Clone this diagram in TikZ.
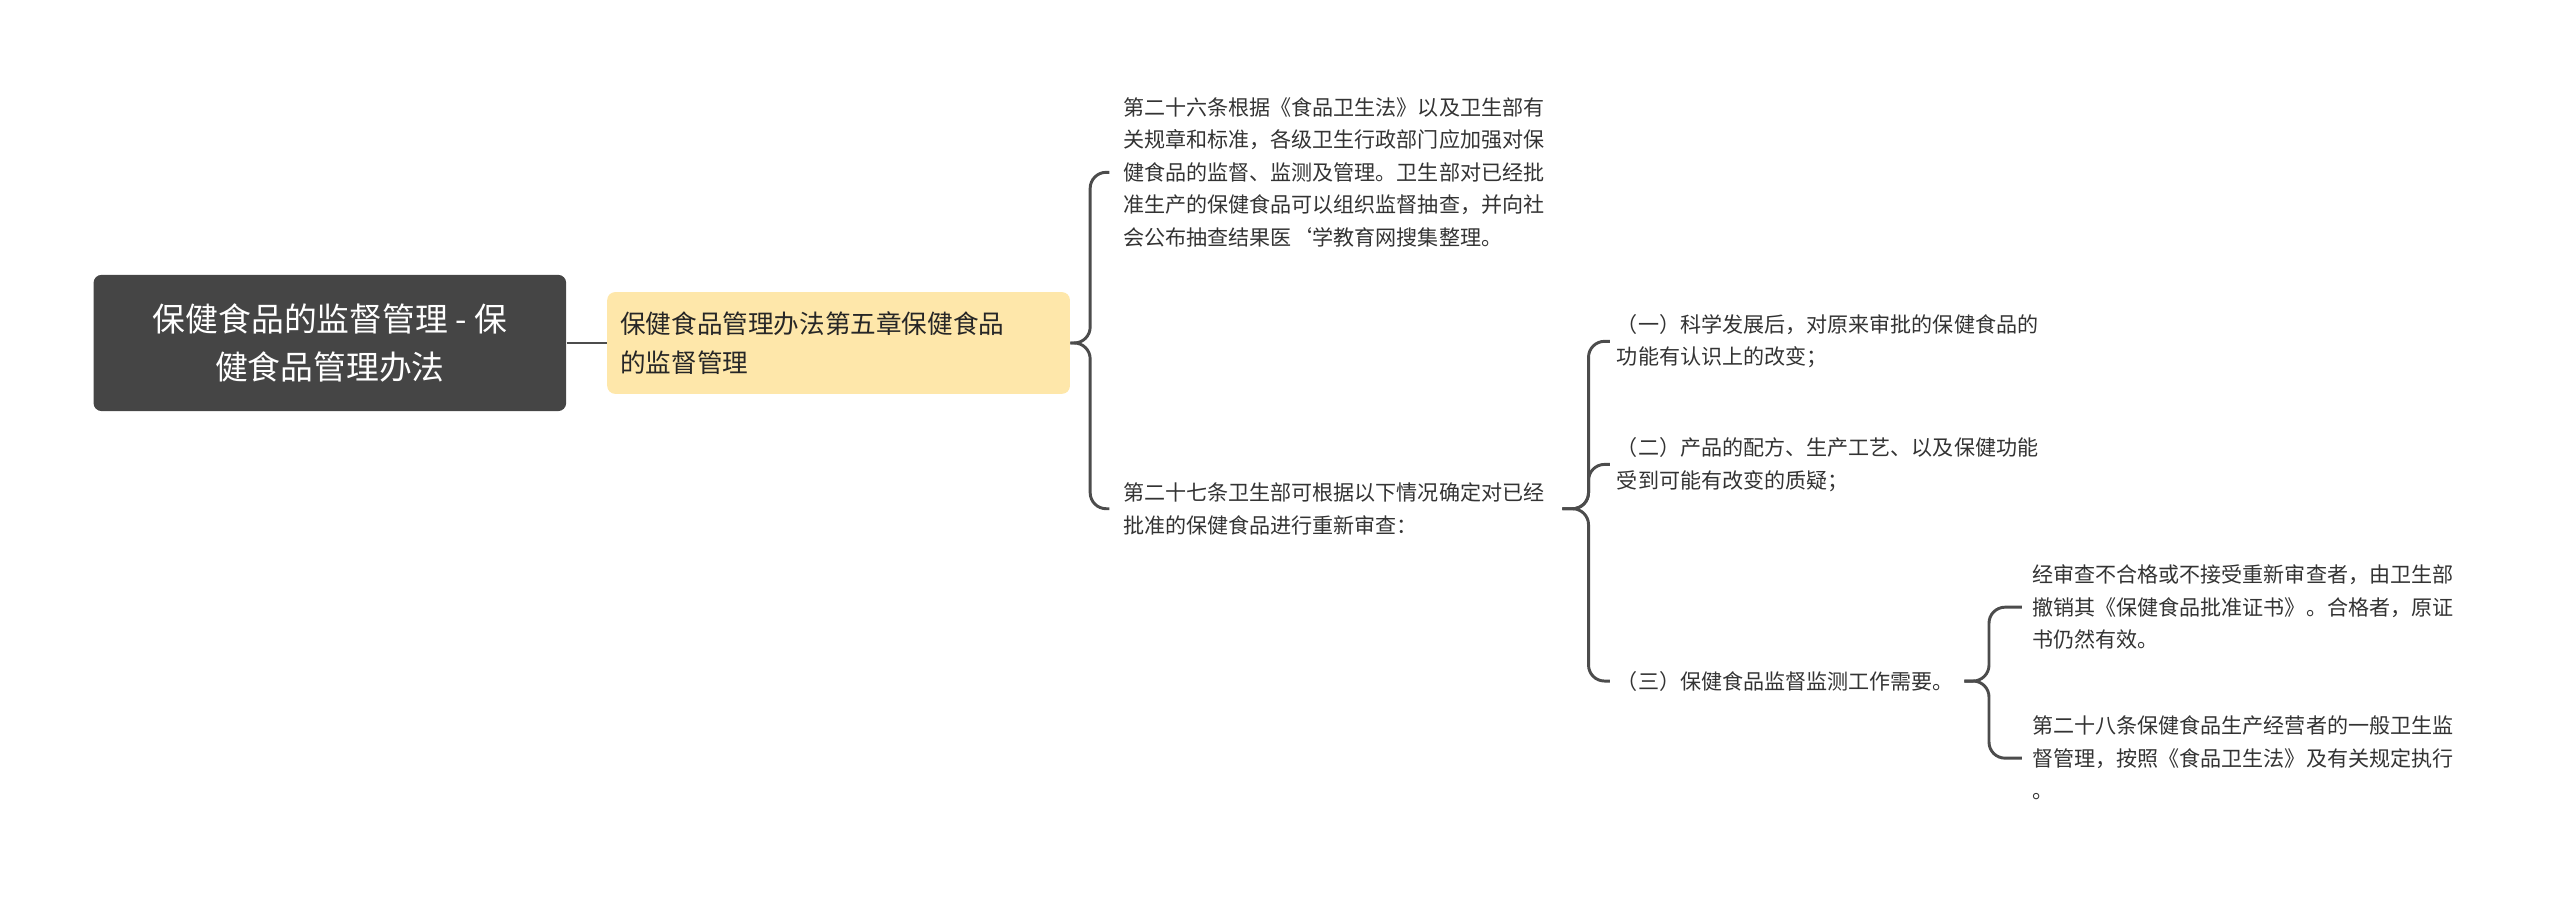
\documentclass[tikz,border=0pt]{standalone}
\usepackage{fontspec}
\setmainfont{Noto Sans CJK SC}
\begin{document}
\begin{tikzpicture}[x=0.6154pt,y=-0.6154pt,
  conn/.style={draw=black!70,line width=1.1pt,rounded corners=6pt},
  leaf/.style={anchor=west,align=left,font=\fontsize{7.9}{12.2}\selectfont,text=black!80,inner sep=0pt}]
\useasboundingbox (0,0) rectangle (1560,548);
\node[fill=black!73,rounded corners=3pt,minimum width=288*0.6154pt,minimum height=83*0.6154pt,
  text=white,align=center,font=\fontsize{12.3}{18}\selectfont] (root) at (201,209)
  {保健食品的监督管理 - 保\\健食品管理办法};
\node[fill=orange!12!yellow!30!white,fill={rgb,255:red,254;green,231;blue,170},rounded corners=3pt,
  minimum width=282*0.6154pt,minimum height=62*0.6154pt,text width=266*0.6154pt,
  align=left,font=\fontsize{9.6}{14.5}\selectfont,text=black!85] (c) at (511,209)
  {保健食品管理办法第五章保健食品\\的监督管理};
\node[leaf] (a1) at (684,105) {第二十六条根据《食品卫生法》以及卫生部有\\关规章和标准，各级卫生行政部门应加强对保\\健食品的监督、监测及管理。卫生部对已经批\\准生产的保健食品可以组织监督抽查，并向社\\会公布抽查结果医`学教育网搜集整理。};
\node[leaf] (a2) at (684,310) {第二十七条卫生部可根据以下情况确定对已经\\批准的保健食品进行重新审查：};
\node[leaf] (b1) at (985,208) {（一）科学发展后，对原来审批的保健食品的\\功能有认识上的改变；};
\node[leaf] (b2) at (985,283) {（二）产品的配方、生产工艺、以及保健功能\\受到可能有改变的质疑；};
\node[leaf] (b3) at (985,415) {（三）保健食品监督监测工作需要。};
\node[leaf] (d1) at (1238,370) {经审查不合格或不接受重新审查者，由卫生部\\撤销其《保健食品批准证书》。合格者，原证\\书仍然有效。};
\node[leaf] (d2) at (1238,462) {第二十八条保健食品生产经营者的一般卫生监\\督管理，按照《食品卫生法》及有关规定执行\\。};
\draw[conn] (root.east) -- (c.west);
\draw[conn] (c.east) -- ++(12,0) |- ([xshift=-8*0.6154pt]a1.west);
\draw[conn] (c.east) -- ++(12,0) |- ([xshift=-8*0.6154pt]a2.west);
\coordinate (a2e) at (952,310);
\draw[conn] (a2e) -- ++(16,0) |- ([xshift=-4*0.6154pt]b1.west);
\draw[conn] (a2e) -- ++(16,0) |- ([xshift=-4*0.6154pt]b2.west);
\draw[conn] (a2e) -- ++(16,0) |- ([xshift=-4*0.6154pt]b3.west);
\draw[conn] ([xshift=6*0.6154pt]b3.east) -- ++(15,0) |- ([xshift=-6*0.6154pt]d1.west);
\draw[conn] ([xshift=6*0.6154pt]b3.east) -- ++(15,0) |- ([xshift=-6*0.6154pt]d2.west);
\end{tikzpicture}
\end{document}
